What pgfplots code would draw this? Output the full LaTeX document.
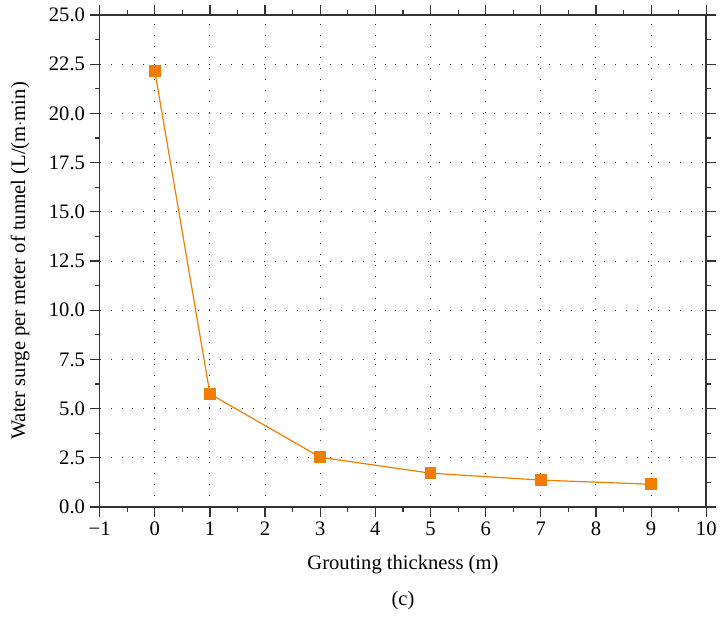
\documentclass[border=0pt]{standalone}
\usepackage{pgfplots}
\pgfplotsset{compat=1.18}
\usepackage{fontspec}
\setmainfont{Liberation Serif}
\definecolor{ser}{RGB}{240,125,0}
\definecolor{axc}{RGB}{50,50,50}
\newcommand{\lf}{\fontsize{15.5}{17}\selectfont}
\begin{document}
\begin{tikzpicture}
\begin{axis}[
  scale only axis,
  width=456.75pt, height=370.5pt,
  xmin=-1, xmax=10, ymin=0, ymax=25,
  xtick={-1,0,...,10}, ytick={0,2.5,...,25},
  xticklabels={−1,0,1,2,3,4,5,6,7,8,9,10},
  minor x tick num=1, minor y tick num=1,
  tick align=outside,
  major tick length=7.5pt, minor tick length=3.75pt,
  every tick/.style={axc, line width=0.9pt},
  axis line style={axc, line width=1.2pt},
  grid=major,
  major grid style={black!80, line width=0.75pt, dash pattern=on 0.75pt off 7.5pt},
  yticklabel style={/pgf/number format/.cd, fixed, fixed zerofill, precision=1},
  /pgf/number format/assume math mode=true,
  tick label style={font=\lf},
  label style={font=\lf},
  xlabel={Grouting thickness (m)},
  ylabel={Water surge per meter of tunnel (L/(m$\cdot$min)},
  xlabel style={at={(axis description cs:0.5,-0.117)}, anchor=center},
  ylabel style={at={(axis description cs:-0.131,0.5)}, anchor=center},
  clip=false,
]
\addplot[ser, line width=0.9pt, mark=square*, mark size=4pt,
  mark options={solid, fill=ser, draw=ser}]
  coordinates {(0,22.17)(1,5.75)(3,2.53)(5,1.72)(7,1.37)(9,1.16)};
\end{axis}
\node[font=\lf] at ([yshift=-70.5pt]current axis.south) {(c)};
\path (current axis.south west) ++(-75pt,-84.75pt) coordinate (bl);
\path (current axis.north east) ++(9pt,11.25pt) coordinate (tr);
\path[use as bounding box] (bl) rectangle (tr);
\end{tikzpicture}
\end{document}
